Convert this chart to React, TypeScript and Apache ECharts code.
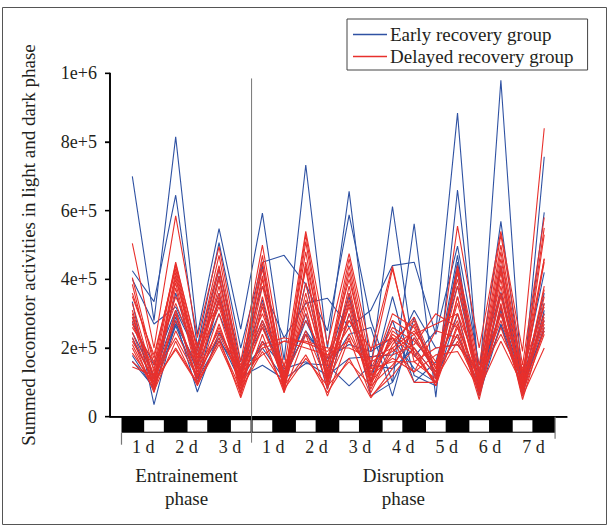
import React, { useEffect, useRef } from "react";
import * as echarts from "echarts";

// Light (L) / dark (D) schedule for each half-day point
const PHASES = ["D", "L", "D", "L", "D", "L", "L", "D", "L", "D", "L", "D", "L", "D", "L", "D", "L", "D", "L", "D"];
const DAY_LABELS = ["1 d", "2 d", "3 d", "1 d", "2 d", "3 d", "4 d", "5 d", "6 d", "7 d"];
const PHASE_LABELS = ["Entrainement\nphase", "Disruption\nphase"];
const Y_TICKS = [0, 200000, 400000, 600000, 800000, 1000000];
const Y_TICK_LABELS = ["0", "2e+5", "4e+5", "6e+5", "8e+5", "1e+6"];

// Values in thousands of counts
const EARLY_1 = [700, 280, 815, 240, 548, 255, 593, 165, 733, 200, 656, 140, 612, 175, 250, 884, 95, 980, 70, 757];
const EARLY_2 = [425, 335, 645, 205, 507, 200, 450, 470, 385, 250, 588, 280, 100, 562, 57, 660, 120, 569, 100, 595];
const EARLY_3 = [400, 270, 320, 190, 430, 160, 380, 230, 330, 345, 260, 310, 440, 450, 240, 497, 150, 362, 120, 420];
const EARLY_4 = [335, 35, 280, 72, 245, 130, 280, 110, 250, 160, 350, 60, 100, 230, 130, 470, 65, 323, 60, 310];
const EARLY_5 = [245, 120, 300, 100, 340, 115, 150, 110, 155, 150, 90, 150, 140, 200, 120, 240, 90, 265, 80, 260];
const EARLY_6 = [178, 80, 290, 130, 230, 100, 220, 140, 160, 120, 170, 175, 180, 310, 200, 210, 130, 300, 90, 300];
const EARLY_7 = [162, 85, 265, 110, 220, 135, 200, 110, 280, 140, 240, 260, 60, 290, 110, 450, 70, 360, 110, 330];
const EARLY_8 = [275, 150, 310, 180, 360, 120, 340, 90, 300, 80, 300, 120, 280, 100, 160, 380, 100, 310, 100, 280];
const EARLY_9 = [230, 100, 360, 150, 410, 110, 440, 120, 390, 110, 360, 100, 350, 120, 90, 420, 80, 440, 90, 360];
const EARLY_10 = [290, 110, 270, 150, 300, 140, 260, 130, 240, 170, 210, 190, 230, 140, 100, 300, 60, 270, 100, 250];

const DELAYED_1 = [505, 200, 585, 230, 495, 160, 500, 140, 540, 210, 475, 190, 438, 160, 110, 555, 200, 540, 190, 840];
const DELAYED_2 = [405, 150, 450, 190, 470, 130, 470, 100, 530, 150, 460, 150, 430, 180, 100, 440, 150, 530, 150, 580];
const DELAYED_3 = [385, 130, 445, 200, 440, 120, 450, 90, 510, 130, 440, 120, 300, 260, 140, 430, 130, 500, 120, 550];
const DELAYED_4 = [360, 170, 440, 170, 430, 140, 430, 110, 480, 120, 420, 100, 280, 240, 130, 420, 110, 480, 100, 530];
const DELAYED_5 = [350, 180, 430, 160, 410, 110, 410, 80, 450, 170, 400, 140, 260, 220, 150, 400, 90, 460, 130, 460];
const DELAYED_6 = [330, 110, 420, 150, 400, 100, 400, 70, 440, 100, 380, 90, 250, 200, 120, 380, 120, 440, 110, 450];
const DELAYED_7 = [310, 100, 410, 140, 380, 90, 380, 120, 430, 90, 360, 110, 230, 180, 100, 350, 80, 420, 80, 380];
const DELAYED_8 = [300, 90, 400, 180, 360, 80, 350, 100, 390, 110, 340, 130, 220, 280, 120, 330, 100, 400, 90, 370];
const DELAYED_9 = [290, 120, 390, 130, 350, 70, 330, 90, 340, 140, 320, 80, 210, 290, 140, 300, 70, 380, 70, 350];
const DELAYED_10 = [280, 80, 375, 120, 340, 60, 320, 80, 320, 80, 300, 70, 200, 250, 160, 280, 60, 330, 60, 330];
const DELAYED_11 = [270, 140, 350, 210, 330, 150, 300, 130, 300, 120, 280, 160, 190, 240, 270, 300, 140, 300, 140, 320];
const DELAYED_12 = [260, 160, 330, 170, 320, 120, 280, 150, 280, 160, 260, 100, 180, 210, 300, 260, 110, 280, 100, 300];
const DELAYED_13 = [245, 90, 310, 110, 300, 100, 260, 110, 250, 100, 240, 120, 170, 130, 250, 230, 90, 260, 80, 290];
const DELAYED_14 = [230, 70, 300, 100, 270, 90, 200, 220, 200, 180, 220, 140, 160, 160, 200, 210, 120, 240, 110, 280];
const DELAYED_15 = [220, 110, 280, 140, 250, 130, 180, 220, 220, 200, 200, 170, 200, 130, 180, 190, 80, 220, 90, 270];
const DELAYED_16 = [210, 85, 250, 120, 240, 110, 210, 230, 215, 190, 280, 200, 230, 100, 100, 260, 50, 320, 50, 260];
const DELAYED_17 = [200, 75, 220, 90, 230, 55, 240, 70, 240, 60, 230, 60, 120, 200, 90, 350, 100, 360, 80, 250];
const DELAYED_18 = [185, 95, 200, 100, 220, 80, 190, 90, 180, 70, 170, 55, 140, 270, 110, 220, 80, 430, 70, 240];
const DELAYED_19 = [160, 105, 195, 95, 210, 70, 220, 80, 170, 90, 160, 90, 150, 230, 130, 240, 70, 300, 60, 200];
const DELAYED_20 = [145, 120, 230, 115, 260, 95, 270, 100, 360, 100, 330, 100, 240, 190, 90, 270, 100, 350, 90, 460];

const EARLY = [EARLY_1, EARLY_2, EARLY_3, EARLY_4, EARLY_5, EARLY_6, EARLY_7, EARLY_8, EARLY_9, EARLY_10];
const DELAYED = [
  DELAYED_1, DELAYED_2, DELAYED_3, DELAYED_4, DELAYED_5, DELAYED_6, DELAYED_7, DELAYED_8, DELAYED_9, DELAYED_10,
  DELAYED_11, DELAYED_12, DELAYED_13, DELAYED_14, DELAYED_15, DELAYED_16, DELAYED_17, DELAYED_18, DELAYED_19, DELAYED_20,
];

const EARLY_NAME = "Early recovery group";
const DELAYED_NAME = "Delayed recovery group";
const BLUE = "#2f52a3";
const RED = "#e8302c";
const FONT = "'Liberation Serif', 'DejaVu Serif', serif";
const TEXT = "#231f20";
const X_MIN = -1.03;
const X_MAX = 20.05;

export default function App() {
  const ref = useRef<HTMLDivElement>(null);

  useEffect(() => {
    document.body.style.margin = "0";
    const chart = echarts.init(ref.current!, null, { renderer: "svg" });

    const mk = (vals: number[], name: string, color: string, k: string) => ({
      id: k,
      type: "line",
      name,
      data: vals.map((v, i) => [i, v * 1000]),
      symbol: "none",
      showSymbol: false,
      silent: true,
      lineStyle: { color, width: 1.1 },
      itemStyle: { color },
      emphasis: { disabled: true },
    });

    const series: any[] = [
      ...EARLY.map((v, i) => mk(v, EARLY_NAME, BLUE, "e" + i)),
      ...DELAYED.map((v, i) => mk(v, DELAYED_NAME, RED, "d" + i)),
    ];

    chart.setOption({
      animation: false,
      backgroundColor: "#ffffff",
      grid: { left: 110, right: 42, top: 73.3, bottom: 110.3 },
      legend: {
        data: [EARLY_NAME, DELAYED_NAME],
        orient: "vertical",
        left: 347,
        top: 19,
        padding: [6, 14, 4, 6],
        itemGap: 3,
        itemWidth: 34,
        itemHeight: 1.5,
        icon: "rect",
        borderColor: "#444",
        borderWidth: 1,
        selectedMode: false,
        textStyle: { fontFamily: FONT, fontSize: 19, color: TEXT, padding: [0, 0, 0, -2] },
      },
      xAxis: {
        type: "value",
        min: X_MIN,
        max: X_MAX,
        axisLine: { show: true, onZero: false, lineStyle: { color: "#000", width: 1.5 } },
        axisTick: { show: false },
        axisLabel: { show: false },
        splitLine: { show: false },
      },
      yAxis: {
        type: "value",
        min: 0,
        max: 1000000,
        interval: 200000,
        name: "Summed locomotor activities in light and dark phase",
        nameLocation: "middle",
        nameGap: 72,
        nameTextStyle: { fontFamily: FONT, fontSize: 19, color: TEXT },
        axisLine: { show: true, onZero: false, lineStyle: { color: "#000", width: 1.5 } },
        axisTick: { show: true, length: 5, lineStyle: { color: "#000", width: 1.3 } },
        axisLabel: {
          margin: 13,
          fontFamily: FONT,
          fontSize: 18,
          color: TEXT,
          formatter: (v: number) => Y_TICK_LABELS[Math.round(v / 200000)] ?? "",
        },
        splitLine: { show: false },
      },
      series,
    });

    const px = (x: number, y: number) => chart.convertToPixel({ gridIndex: 0 }, [x, y]) as number[];
    const y0 = px(0, 0)[1];
    const barTop = y0;
    const barH = 16;
    const graphics: any[] = [];
    const line = (x1: number, y1: number, x2: number, y2: number, stroke: string, w: number, z = 50) =>
      graphics.push({ type: "line", z, shape: { x1, y1, x2, y2 }, style: { stroke, lineWidth: w }, silent: true });

    // outer frame
    const fx0 = 2.5, fy0 = 7.5, fx1 = 606.5, fy1 = 524.5;
    line(fx0, fy0, fx1, fy0, "#555", 1);
    line(fx1, fy0, fx1, fy1, "#555", 1);
    line(fx1, fy1, fx0, fy1, "#555", 1);
    line(fx0, fy1, fx0, fy0, "#555", 1);

    // axis lines and y ticks, placed with the chart's own scales
    const axX = px(X_MIN, 0)[0];
    const axXEnd = px(X_MAX, 0)[0];
    const axTop = px(X_MIN, 1000000)[1];
    line(axX, axTop, axX, y0, "#000", 1.6, 60);
    line(axX, y0, axXEnd, y0, "#000", 1.6, 49);
    Y_TICKS.forEach((t) => {
      const yy = px(X_MIN, t)[1];
      line(axX - 5, yy, axX, yy, "#000", 1.3, 60);
    });

    const xs = px(-0.5, 0)[0];
    const xe = px(PHASES.length - 0.5, 0)[0];
    graphics.push({
      type: "rect",
      z: 50,
      shape: { x: xs, y: barTop, width: xe - xs, height: barH },
      style: { fill: "#000" },
      silent: true,
    });
    PHASES.forEach((p, i) => {
      if (p !== "L") return;
      const a = px(i - 0.5, 0)[0];
      const b = px(i + 0.5, 0)[0];
      graphics.push({
        type: "rect",
        z: 51,
        shape: { x: a + 1, y: barTop + 3.5, width: b - a - 2, height: barH - 4.5 },
        style: { fill: "#fff" },
        silent: true,
      });
    });
    line(xs, barTop + barH, xs, barTop + 28, "#777", 1.2);
    line(xe, barTop, xe, barTop + 22, "#777", 1.2);
    const sepX = px(5.5, 0)[0];
    line(sepX, px(0, 985000)[1], sepX, barTop + 26, "#777", 1, 52);

    DAY_LABELS.forEach((t, k) => {
      const c = px(2 * k + 0.5, 0)[0];
      graphics.push({
        type: "text",
        z: 50,
        x: c,
        y: barTop + 30,
        style: {
          text: t,
          fontFamily: FONT,
          fontSize: 18,
          fill: TEXT,
          align: "center",
          verticalAlign: "middle",
        },
        silent: true,
      });
    });

    const phaseCenters = [2.5, 12.5];
    PHASE_LABELS.forEach((t, k) => {
      const c = px(phaseCenters[k], 0)[0];
      graphics.push({
        type: "text",
        z: 50,
        x: c,
        y: barTop + 47,
        style: {
          text: t,
          fontFamily: FONT,
          fontSize: 19,
          lineHeight: 23,
          fill: TEXT,
          align: "center",
          verticalAlign: "top",
        },
        silent: true,
      });
    });

    chart.setOption({ graphic: graphics });

    return () => chart.dispose();
  }, []);

  return <div ref={ref} style={{ width: 609, height: 527 }} />;
}
